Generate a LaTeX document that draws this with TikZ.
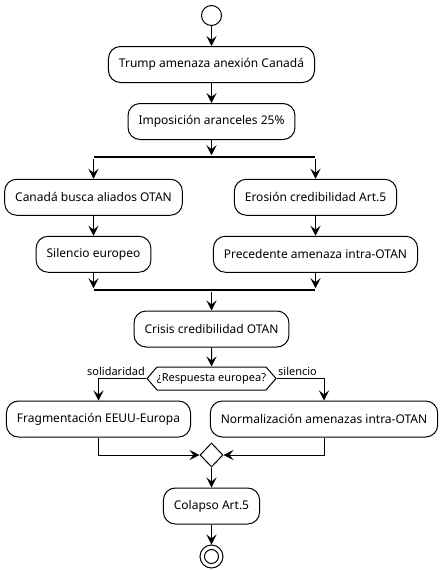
\documentclass[tikz,border=0pt]{standalone}
\usepackage{fontspec}
\setmainfont{Noto Sans}
\usetikzlibrary{positioning, arrows.meta, shapes.geometric, shapes.symbols}

\begin{document}
\begin{tikzpicture}[>={Stealth[length=10bp, width=10bp, inset=4bp]}, node distance=20bp, line width=1bp,
    act/.style={draw, fill=white, rounded corners=12bp, minimum height=36bp, inner xsep=10.5bp,
        font=\fontsize{12bp}{14bp}\selectfont},
    bar/.style={fill=black, minimum width=221bp, minimum height=2.5bp, inner sep=0pt},
    cond/.style={draw, signal, signal to=west and east, signal pointer angle=98, minimum height=23bp,
        inner xsep=0pt, inner ysep=0pt, font=\fontsize{11bp}{13bp}\selectfont},
    lbl/.style={inner sep=0pt, font=\fontsize{11bp}{13bp}\selectfont}]

    \useasboundingbox (0,0) rectangle (443bp,-570bp);

    % 1. Define Nodes: start, chain of actions, fork and join bars
    \node (start) [circle, draw, minimum size=20bp, inner sep=0pt] at (211.5bp,-15.5bp) {};
    \node (trump) [act, below=of start] {Trump amenaza anexión Canadá};
    \node (aranc) [act, below=of trump] {Imposición aranceles 25\%};
    \node (fork) [bar] at (204.5bp,-157bp) {};
    \node (canada) [act, below=of fork.south west] {Canadá busca aliados OTAN};
    \node (erosion) [act, below=of fork.south east] {Erosión credibilidad Art.5};
    \node (silencio) [act, below=of canada] {Silencio europeo};
    \node (preced) [act, below=of erosion] {Precedente amenaza intra-OTAN};
    \node (join) [bar] at (204.5bp,-290bp) {};
    \node (crisis) [act] at (211.5bp,-329bp) {Crisis credibilidad OTAN};

    % 2. Decision with its two branches
    \node (resp) [cond, below=19bp of crisis] {¿Respuesta europea?};
    \node (lsol) [lbl, above left=2bp and 1bp of resp.west] {solidaridad};
    \node (lsil) [lbl, above right=2bp and 1bp of resp.east] {silencio};
    \node (frag) [act] at (98.5bp,-419bp) {Fragmentación EEUU-Europa};
    \node (norm) [act] at (324bp,-419bp) {Normalización amenazas intra-OTAN};
    \node (merge) [diamond, draw, minimum width=23bp, minimum height=24bp, inner sep=0pt] at (211.5bp,-455bp) {};
    \node (colapso) [act, below=of merge] {Colapso Art.5};
    \node (stop) [circle, draw, minimum size=23bp, inner sep=0pt, below=of colapso] {};
    \node (stopin) [circle, draw, minimum size=14bp, inner sep=0pt] at (stop) {};

    % 3. Draw Arrows down to the fork
    \draw[->] (start) -- (trump);
    \draw[->] (trump) -- (aranc);
    \draw[->] (aranc) -- (aranc |- fork.north);
    \draw[->] (fork.south -| canada) -- (canada);
    \draw[->] (fork.south -| erosion) -- (erosion);

    % 4. Draw Arrows of the two parallel lines and the join
    \draw[->] (canada) -- (silencio);
    \draw[->] (erosion) -- (preced);
    \draw[->] (silencio) -- (silencio |- join.north);
    \draw[->] (preced) -- (preced |- join.north);
    \draw[->] (join.south -| crisis) -- (crisis);

    % 5. Draw Arrows of the decision and the merge
    \draw[->] (crisis) -- (resp);
    \draw[->] (resp) -| (frag);
    \draw[->] (resp) -| (norm);
    \draw[->] (frag) |- (merge);
    \draw[->] (norm) |- (merge);
    \draw[->] (merge) -- (colapso);
    \draw[->] (colapso) -- (stop);
\end{tikzpicture}
\end{document}
